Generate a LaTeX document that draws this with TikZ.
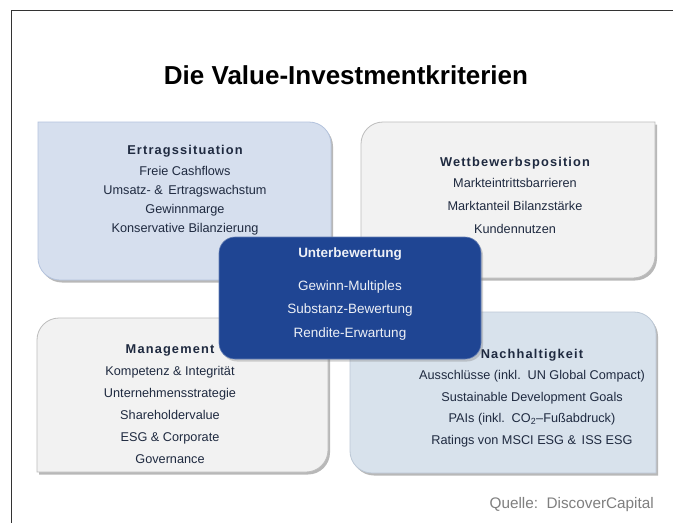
\documentclass[tikz,border=0pt]{standalone}
\usepackage{fontspec}
\setmainfont{Liberation Sans}
\usetikzlibrary{shadows}
\definecolor{navytext}{HTML}{1F2A40}
\definecolor{lightblue}{HTML}{D6DFEE}
\definecolor{lightblueb}{HTML}{B4C3DD}
\definecolor{bluegray}{HTML}{D8E2EC}
\definecolor{bluegrayb}{HTML}{BCC8D6}
\definecolor{boxgray}{HTML}{F2F2F2}
\definecolor{boxgrayb}{HTML}{BDBDBD}
\definecolor{centerblue}{HTML}{1F4593}
\definecolor{quellegray}{HTML}{7F7F7F}
\definecolor{framec}{HTML}{333333}
% shape with top-right and bottom-left rounded corners
\newcommand\shapeTRBL[5]{\path[#1] (#2,#3) -- (#4-22,#3) .. controls (#4-9.8,#3) and (#4,#3+9.8) .. (#4,#3+22) -- (#4,#5) -- (#2+22,#5) .. controls (#2+9.8,#5) and (#2,#5-9.8) .. (#2,#5-22) -- cycle;}
% shape with top-left and bottom-right rounded corners
\newcommand\shapeTLBR[5]{\path[#1] (#2,#3+22) .. controls (#2,#3+9.8) and (#2+9.8,#3) .. (#2+22,#3) -- (#4,#3) -- (#4,#5-22) .. controls (#4,#5-9.8) and (#4-9.8,#5) .. (#4-22,#5) -- (#2,#5) -- cycle;}
\newcommand\hd[1]{{\fontsize{12.8}{15}\selectfont\bfseries\addfontfeature{LetterSpace=9}#1}}
\tikzset{
  boxshadow/.style={fill=black, opacity=0.28, xshift=2pt, yshift=-2.5pt},
  boxtext/.style={align=center, text=navytext, inner sep=0pt, font=\fontsize{12.7}{#1}\selectfont},
  centerbox/.style={fill=centerblue, draw=centerblue!70!white, line width=0.6pt, rounded corners=16pt,
    minimum width=262pt, minimum height=122pt, inner sep=0pt,
    drop shadow={shadow xshift=2pt, shadow yshift=-2.5pt, opacity=0.35}},
  centertext/.style={align=center, text=white!92!centerblue, inner sep=0pt, font=\fontsize{13.5}{23.5}\selectfont},
}
\begin{document}
\begin{tikzpicture}[x=1pt,y=-1pt]
\useasboundingbox (0,0) rectangle (673,523);
\fill[white] (0,0) rectangle (673,523);
\draw[framec, line width=1pt] (673,10) -- (11,10) -- (11,523);

\node[font=\fontsize{26}{30}\selectfont\bfseries] (title) at (346,75) {Die Value-Investmentkriterien};

% Ertragssituation
\shapeTRBL{boxshadow}{38}{122}{331}{280}
\shapeTRBL{fill=lightblue, draw=lightblueb, line width=0.8pt}{38}{122}{331}{280}
\node[boxtext=19] (ertrag) at (185,190.5) {\hd{Ertragssituation}\\[2pt]
  Freie Cashflows\\ Umsatz- \& \,Ertragswachstum\\ Gewinnmarge\\ Konservative Bilanzierung};

% Wettbewerbsposition
\shapeTLBR{boxshadow}{361}{122}{655}{278}
\shapeTLBR{fill=boxgray, draw=boxgrayb, line width=0.8pt}{361}{122}{655}{278}
\node[boxtext=23] (wettb) at (515,195.5) {\hd{Wettbewerbsposition}\\[-2pt]
  Markteintrittsbarrieren\\ Marktanteil Bilanzstärke\\ Kundennutzen};

% Management
\shapeTLBR{boxshadow}{37}{318}{328}{472}
\shapeTLBR{fill=boxgray, draw=boxgrayb, line width=0.8pt}{37}{318}{328}{472}
\node[boxtext=22] (mgmt) at (170,404.5) {\hd{Management}\\
  Kompetenz \& Integrität\\ Unternehmensstrategie\\ Shareholdervalue\\ ESG \& Corporate\\ Governance};

% Nachhaltigkeit
\shapeTRBL{boxshadow}{350}{312}{656}{473}
\shapeTRBL{fill=bluegray, draw=bluegrayb, line width=0.8pt}{350}{312}{656}{473}
\node[boxtext=21.5] (nachh) at (532,398) {\hd{Nachhaltigkeit}\\
  Ausschlüsse (inkl. \,UN Global Compact)\\ Sustainable Development Goals\\
  PAIs (inkl. \,CO\textsubscript{2}–Fußabdruck)\\ Ratings von MSCI ESG \& \,ISS ESG};

% Unterbewertung
\node[centerbox] (center) at (350,298) {};
\node[centertext] (centert) at (350,294) {{\bfseries Unterbewertung}\\[9.5pt]
  Gewinn-Multiples\\ Substanz-Bewertung\\ Rendite-Erwartung};

\node[anchor=east, text=quellegray, inner sep=0pt, font=\fontsize{15.3}{18}\selectfont] (quelle) at (654,505) {Quelle:\ \ DiscoverCapital};
\end{tikzpicture}
\end{document}
